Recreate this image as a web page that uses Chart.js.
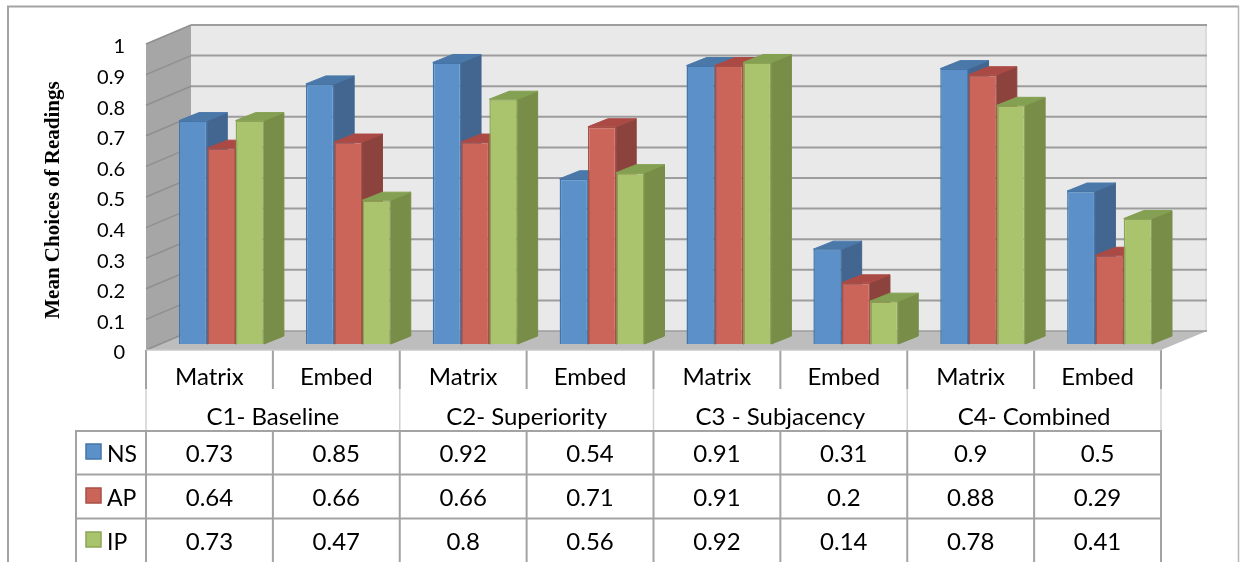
<!DOCTYPE html>
<html><head><meta charset="utf-8">
<style>html,body{margin:0;padding:0;background:#fff;overflow:hidden}canvas{display:block}</style>
<script src="https://cdn.jsdelivr.net/npm/chart.js@4"></script>
</head><body>
<canvas id="c" width="1241" height="562"></canvas>
<script>
const categories = ["Matrix","Embed","Matrix","Embed","Matrix","Embed","Matrix","Embed"];
const groups = ["C1- Baseline","C2- Superiority","C3 - Subjacency","C4- Combined"];
const seriesNames = ["NS","AP","IP"];
const ns = [0.73,0.85,0.92,0.54,0.91,0.31,0.9,0.5];
const ap = [0.64,0.66,0.66,0.71,0.91,0.2,0.88,0.29];
const ip = [0.73,0.47,0.8,0.56,0.92,0.14,0.78,0.41];
const yTicks = [0,0.1,0.2,0.3,0.4,0.5,0.6,0.7,0.8,0.9,1];
const yTitle = "Mean Choices of Readings";

const FONT = "Lato";
const LINE = "#a3a3a3";
const palette = [
  {front:"#5b91c8",border:"#4375aa",top:"#4a78a9",side:"#426690"},
  {front:"#cb6459",border:"#a84f48",top:"#ab4a45",side:"#8c433d"},
  {front:"#aac46e",border:"#8aa556",top:"#84a052",side:"#788d48"}
];
const OFF=3;               // walls sit a little above the tick labels
const DX=45, DY=-19;       // wall depth
const BDX=20, BDY=-8;      // bar depth
const SHIFTX=12, SHIFTY=-9;// bars sit inside the floor

function poly(ctx,pts,fill,stroke,lw){
  ctx.beginPath();pts.forEach((p,i)=>i?ctx.lineTo(p[0],p[1]):ctx.moveTo(p[0],p[1]));ctx.closePath();
  if(fill){ctx.fillStyle=fill;ctx.fill();}
  if(stroke){ctx.strokeStyle=stroke;ctx.lineWidth=lw||1;ctx.stroke();}
}
function seg(ctx,x1,y1,x2,y2,col,lw){
  ctx.beginPath();ctx.moveTo(x1,y1);ctx.lineTo(x2,y2);ctx.strokeStyle=col;ctx.lineWidth=lw;ctx.stroke();
}
const threeD = {
  id:"threeD",
  beforeDatasetsDraw(chart){
    const {ctx,chartArea:a,scales:{y}}=chart;
    const L=a.left,R=a.right,T=a.top-OFF,B=a.bottom-OFF;
    ctx.save();
    // frame
    seg(ctx,8,562,8,6.5,LINE,2);seg(ctx,7,6.5,1239,6.5,LINE,2);seg(ctx,1238.5,6,1238.5,562,"#b5b5b5",1.5);
    // back wall
    poly(ctx,[[L+DX,T+DY],[R+DX+1,T+DY],[R+DX+1,B+DY],[L+DX,B+DY]],"#e9e9e9");
    seg(ctx,R+DX,T+DY,R+DX,B+DY,"#cfcfcf",1);
    // left wall
    poly(ctx,[[L,T],[L+DX,T+DY],[L+DX,B+DY],[L,B]],"#a6a6a6");
    // floor
    poly(ctx,[[L,B],[L+DX,B+DY],[R+DX+1,B+DY],[R,B]],"#bdbdbd");
    // grid lines
    yTicks.forEach(t=>{
      const py=y.getPixelForValue(t)-OFF;
      if(t>0) seg(ctx,L+DX,py+DY,R+DX+1,py+DY,"#9d9d9d",2);
      seg(ctx,L,py,L+DX,py+DY,"#8f8f8f",1.5);
    });
    seg(ctx,L+DX,B+DY,R+DX+1,B+DY,"#9d9d9d",1.5);
    // bars, drawn left to right so each front covers its neighbour's side
    ctx.translate(SHIFTX,SHIFTY);
    for(let i=0;i<categories.length;i++){
      for(let d=0;d<3;d++){
        const el=chart.getDatasetMeta(d).data[i],c=palette[d];
        const xl=el.x-el.width/2,xr=el.x+el.width/2,yt=el.y,yb=el.base;
        poly(ctx,[[xr,yt],[xr+BDX,yt+BDY],[xr+BDX,yb+BDY],[xr,yb]],c.side,c.side,1);
        poly(ctx,[[xl,yt],[xl+BDX,yt+BDY],[xr+BDX,yt+BDY],[xr,yt]],c.top,c.top,1);
        el.draw(ctx);
      }
    }
    ctx.restore();
    return false;
  },
  afterDraw(chart){
    const {ctx,chartArea:a,scales:{x}}=chart;
    const L=a.left,R=a.right,B=a.bottom-OFF,w=(R-L)/categories.length;
    const rows=[431,474.5,518.5],rowMid=[454.5,498.5,542.5],swY=[444,488,532];
    ctx.save();
    // vertical rules under the axis
    for(let i=0;i<=categories.length;i++){
      const px=L+i*w;
      if(i%2===0){
        seg(ctx,px,B,px,389,LINE,2);
        seg(ctx,px,389,px,rows[0],"#d0d0d0",1.5);
        seg(ctx,px,rows[0],px,562,LINE,2);
      }else{
        seg(ctx,px,B,px,389,LINE,2);
        seg(ctx,px,rows[0],px,562,LINE,2);
      }
    }
    seg(ctx,L,B,R,B,"#c9c9c9",1.5);
    seg(ctx,76,rows[0],76,562,LINE,2);
    rows.forEach(r=>seg(ctx,75,r,R+1,r,LINE,2));
    // text
    ctx.fillStyle="#000";ctx.font="24px "+FONT;ctx.textAlign="center";ctx.textBaseline="middle";
    groups.forEach((g,i)=>ctx.fillText(g,L+(i*2+1)*w,417));
    [ns,ap,ip].forEach((arr,r)=>{
      arr.forEach((v,i)=>{ctx.fillStyle="#000";ctx.fillText(String(v),x.getPixelForTick(i),rowMid[r]);});
    });
    // legend keys
    ctx.textAlign="left";ctx.font="23px "+FONT;
    seriesNames.forEach((n,r)=>{
      poly(ctx,[[86,swY[r]],[101,swY[r]],[101,swY[r]+15],[86,swY[r]+15]],palette[r].front,palette[r].border,1.5);
      ctx.fillStyle="#000";ctx.fillText(n,107,rowMid[r]);
    });
    ctx.restore();
  }
};
const mk=(label,data,i)=>({label,data,backgroundColor:palette[i].front,borderColor:palette[i].border,borderWidth:1.5,barPercentage:1,categoryPercentage:0.669});
new Chart(document.getElementById("c"),{
  type:"bar",
  data:{labels:categories,datasets:[mk(seriesNames[0],ns,0),mk(seriesNames[1],ap,1),mk(seriesNames[2],ip,2)]},
  options:{
    responsive:false,animation:false,
    layout:{padding:{left:41,top:47,right:80,bottom:0}},
    plugins:{legend:{display:false},tooltip:{enabled:false},title:{display:false}},
    scales:{
      x:{
        grid:{display:false},border:{display:false},
        ticks:{autoSkip:false,maxRotation:0,minRotation:0,color:"#000",font:{family:FONT,size:24},padding:2},
        afterFit(s){s.height=209;}
      },
      y:{
        min:0,max:1,
        grid:{display:false,drawTicks:false},border:{display:false},
        title:{display:true,text:yTitle,color:"#000",font:{family:"Liberation Serif",size:21,weight:"bold"},padding:0},
        ticks:{stepSize:0.1,color:"#000",font:{family:FONT,size:20},padding:21,callback:v=>String(Math.round(v*10)/10)},
        afterFit(s){s.width=105;}
      }
    }
  },
  plugins:[threeD]
});
</script>
</body></html>
